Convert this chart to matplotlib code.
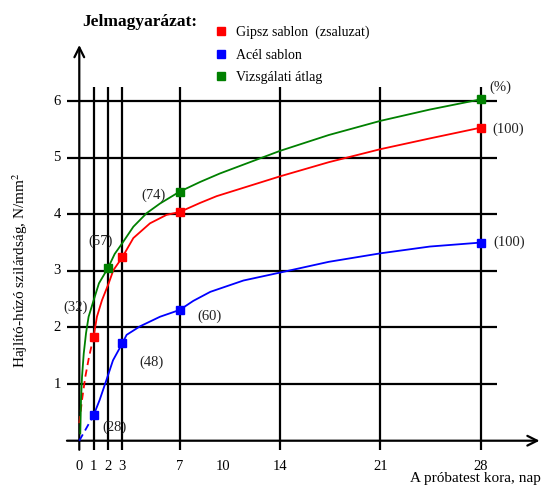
# Hajlító-húzó szilárdság a próbatest korának függvényében

# --------------------------------------------------------------------
# 0. Import
# --------------------------------------------------------------------

import matplotlib

matplotlib.use("Agg")
import matplotlib.pyplot as plt
from matplotlib.lines import Line2D

# --------------------------------------------------------------------
# 1. Data
# --------------------------------------------------------------------

SERIES_NAMES = ["Gipsz sablon  (zsaluzat)", "Acél sablon", "Vizsgálati átlag"]
SERIES_COLORS = ["#ff0000", "#0000ff", "#008000"]

# measured points (markers)
gipsz_days = [1, 3, 7, 28]
gipsz_vals = [1.84, 3.24, 4.04, 5.53]
acel_days = [1, 3, 7, 28]
acel_vals = [0.45, 1.73, 2.31, 3.50]
atlag_days = [2, 7, 28]
atlag_vals = [3.05, 4.40, 6.03]

# traced curves
gipsz_dash_x = [0, 0.19, 0.42, 0.68, 1]
gipsz_dash_y = [0.31, 0.72, 1.13, 1.48, 1.84]
gipsz_curve_x = [1, 1.23, 1.58, 2.05, 2.37, 3, 3.77, 4.93, 6.09, 7, 8.42, 9.58,
                 14, 17.4, 21, 24.45, 28]
gipsz_curve_y = [1.84, 2.19, 2.48, 2.78, 3.01, 3.24, 3.58, 3.84, 3.99, 4.04, 4.20, 4.32,
                 4.67, 4.92, 5.15, 5.34, 5.53]

acel_dash_x = [0, 1]
acel_dash_y = [0, 0.45]
acel_curve_x = [1, 1.42, 1.89, 2.35, 3, 3.3, 4.23, 5.63, 7, 7.95, 9.14, 11.45, 14, 17.4, 21, 24.45, 28]
acel_curve_y = [0.45, 0.72, 1.07, 1.42, 1.72, 1.87, 2.02, 2.19, 2.31, 2.47, 2.63, 2.83, 2.97, 3.16, 3.31, 3.43, 3.50]

atlag_curve_x = [0.07, 0.12, 0.19, 0.31, 0.47, 0.65, 1, 1.37, 2, 2.47, 3, 3.77, 4.70, 5.63,
                 7, 8.42, 9.8, 14, 17.4, 21, 24.45, 28]
atlag_curve_y = [0.13, 0.72, 1.13, 1.54, 1.90, 2.19, 2.48, 2.78, 3.05, 3.30, 3.49, 3.78, 4.02, 4.19,
                 4.40, 4.57, 4.72, 5.12, 5.40, 5.65, 5.85, 6.03]

# percentage labels
pct_labels = ["(32)", "(57)", "(74)", "(%)", "(100)", "(28)", "(48)", "(60)", "(100)"]
pct_x = [-0.25, 1.51, 5.16, 29.35, 29.9, 2.49, 5.05, 9.07, 29.96]
pct_y = [2.36, 3.53, 4.33, 6.25, 5.5, 0.23, 1.38, 2.2, 3.5]

x_ticks = [0, 1, 2, 3, 7, 10, 14, 21, 28]
x_grid = [1, 2, 3, 7, 14, 21, 28]
y_ticks = [1, 2, 3, 4, 5, 6]

# --------------------------------------------------------------------
# 2. Figure
# --------------------------------------------------------------------

plt.rcParams["font.family"] = ["Liberation Serif", "DejaVu Serif"]
plt.rcParams["mathtext.fontset"] = "stix"

fig = plt.figure(figsize=(5.43, 4.86), dpi=100)
ax = fig.add_axes([0, 0, 1, 1])
ax.set_xlim(-5.53, 32.34)
ax.set_ylim(-0.80, 7.785)
ax.axis("off")

GRID_LW = 1.6

# grid
ax.hlines(y_ticks, -0.86, 29.1, color="black", lw=GRID_LW, zorder=1)
ax.vlines(x_grid, -0.16, 6.25, color="black", lw=GRID_LW, zorder=1)

# axes with arrows
ax.annotate("", xy=(32.1, 0), xytext=(-0.86, 0),
            arrowprops=dict(arrowstyle="->,head_length=0.7,head_width=0.35",
                            lw=GRID_LW, color="black", shrinkA=0, shrinkB=0))
ax.annotate("", xy=(0, 6.99), xytext=(0, -0.16),
            arrowprops=dict(arrowstyle="->,head_length=0.7,head_width=0.35",
                            lw=GRID_LW, color="black", shrinkA=0, shrinkB=0))

# tick labels
for t in x_ticks:
    ax.text(t, -0.45, str(t), ha="center", va="center", fontsize=10.5)
for t in y_ticks:
    ax.text(-1.55, t, str(t), ha="center", va="center", fontsize=10.5)

# curves
LW = 1.3
ax.plot(gipsz_dash_x, gipsz_dash_y, color=SERIES_COLORS[0], lw=LW, ls=(0, (4, 2.5)), zorder=3)
ax.plot(gipsz_curve_x, gipsz_curve_y, color=SERIES_COLORS[0], lw=LW, zorder=3)
ax.plot(acel_dash_x, acel_dash_y, color=SERIES_COLORS[1], lw=LW, ls=(0, (4, 2.5)), zorder=3)
ax.plot(acel_curve_x, acel_curve_y, color=SERIES_COLORS[1], lw=LW, zorder=3)
ax.plot(atlag_curve_x, atlag_curve_y, color=SERIES_COLORS[2], lw=LW, zorder=3)

# markers
MS = 6
ax.plot(gipsz_days, gipsz_vals, "s", color=SERIES_COLORS[0], ms=MS, zorder=4)
ax.plot(acel_days, acel_vals, "s", color=SERIES_COLORS[1], ms=MS, zorder=4)
ax.plot(atlag_days, atlag_vals, "s", color=SERIES_COLORS[2], ms=MS, zorder=4)

# percentage labels
for label, px, py in zip(pct_labels, pct_x, pct_y):
    ax.text(px, py, label, ha="center", va="center", fontsize=10.5, color="#222222")

# axis titles
ax.text(-4.13, 3.01, "Hajlító-húzó szilárdság, N/mm$^2$", rotation=90,
        ha="center", va="center", fontsize=11)
ax.text(32.2, -0.67, "A próbatest kora, nap", ha="right", va="center", fontsize=11)

# legend
fig.text(140 / 543, 1 - 22 / 486, "Jelmagyarázat:", ha="center", va="center",
         fontsize=12.5, fontweight="bold")
handles = [Line2D([], [], marker="s", ls="none", color=c, ms=MS) for c in SERIES_COLORS]
fig.legend(handles, SERIES_NAMES, loc="upper left", bbox_to_anchor=(214 / 543, 1 - 26 / 486),
           frameon=False, fontsize=10, handlelength=1.0, handletextpad=0.6,
           labelspacing=0.65, borderpad=0, borderaxespad=0)

fig.savefig("out.png", dpi=100)
